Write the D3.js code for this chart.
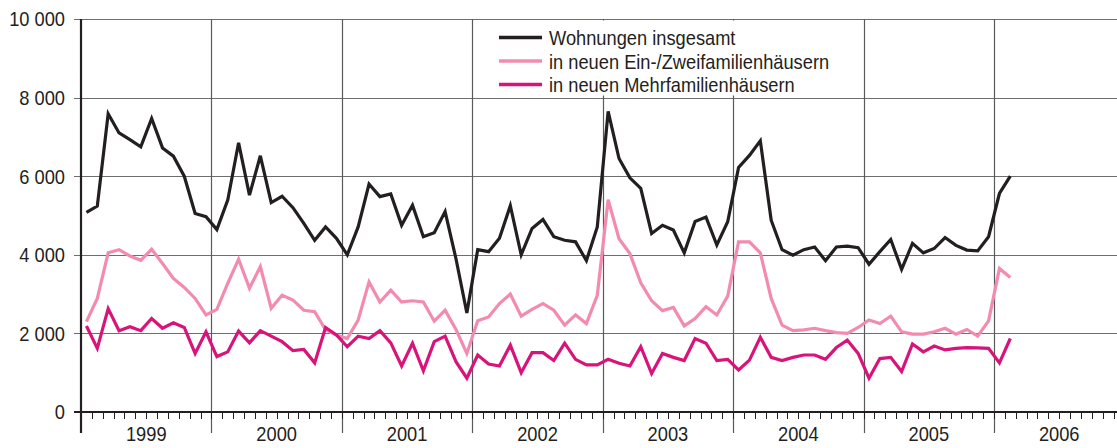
<!DOCTYPE html>
<html>
<head>
<meta charset="utf-8">
<script src="https://cdn.jsdelivr.net/npm/d3@7"></script>
<style>
body{margin:0;background:#fff;}
text{font-family:"Liberation Sans",Arial,sans-serif;fill:#231f20;}
</style>
</head>
<body>
<script>
//monthly values, Jan 1999 to Feb 2006
var years = ["1999","2000","2001","2002","2003","2004","2005","2006"];
var yTicks = [0,2000,4000,6000,8000,10000];

var insgesamt = [5080,5240,7590,7100,6930,6750,7470,6720,6510,6000,5050,4970,
4640,5390,6850,5520,6520,5330,5490,5200,4800,4370,4710,4420,
4000,4710,5800,5480,5550,4750,5260,4460,4560,5100,3900,2520,
4130,4080,4420,5250,4000,4670,4900,4460,4370,4330,3850,4710,
7650,6450,5960,5690,4540,4750,4630,4050,4850,4960,4250,4840,
6220,6530,6900,4880,4130,3990,4130,4200,3850,4200,4220,4180,
3760,4080,4390,3630,4290,4050,4160,4440,4240,4120,4100,4460,
5560,6000];

var einZwei = [2300,2890,4050,4130,3970,3860,4140,3780,3400,3170,2890,2470,
2610,3270,3890,3150,3700,2640,2970,2850,2590,2550,2090,1960,
1870,2340,3310,2800,3100,2800,2830,2800,2310,2590,2100,1490,
2320,2420,2760,3000,2440,2610,2760,2590,2210,2470,2250,2970,
5400,4410,4030,3290,2830,2580,2660,2190,2380,2680,2470,2950,
4330,4330,4050,2890,2210,2070,2090,2130,2070,2020,2000,2150,
2340,2250,2440,2040,1980,1980,2040,2130,1980,2100,1930,2320,
3650,3420];

var mehr = [2190,1620,2630,2070,2170,2070,2380,2130,2270,2150,1490,2040,
1410,1530,2060,1760,2070,1930,1790,1560,1590,1250,2150,1960,
1660,1930,1870,2070,1760,1170,1750,1050,1790,1930,1280,860,
1450,1220,1170,1700,1000,1510,1510,1310,1750,1340,1200,1200,
1340,1240,1170,1660,980,1490,1390,1310,1870,1750,1310,1340,
1070,1320,1900,1390,1310,1390,1450,1450,1340,1640,1830,1490,
860,1360,1390,1030,1730,1530,1680,1580,1620,1640,1630,1620,
1250,1870];

var seriesNames = ["Wohnungen insgesamt","in neuen Ein-/Zweifamilienh\u00e4usern","in neuen Mehrfamilienh\u00e4usern"];
var seriesColors = ["#231f20","#f38bb0","#d8137a"];

(function(){
var width = 1117, height = 448;
var mLeft = 81, mTop = 19, mBottom = 412;
var squeeze = 0.87; //condensed look of the print font

var svg = d3.select("body").append("svg")
  .attr("width", width)
  .attr("height", height);

var x = d3.scaleLinear().domain([0, years.length*12]).range([mLeft, mLeft + years.length*12*10.869]);
var y = d3.scaleLinear().domain([0, 10000]).range([mBottom, mTop]);

//horizontal grid
svg.selectAll(".hgrid").data(yTicks).enter().append("line")
  .attr("x1", mLeft-7).attr("x2", width)
  .attr("y1", function(d){return Math.round(y(d))+0.5;})
  .attr("y2", function(d){return Math.round(y(d))+0.5;})
  .attr("stroke", "#6d6e70").attr("stroke-width", 1.2);

//year lines
svg.selectAll(".vgrid").data(d3.range(1, years.length)).enter().append("line")
  .attr("x1", function(d){return Math.round(x(d*12))+0.5;})
  .attr("x2", function(d){return Math.round(x(d*12))+0.5;})
  .attr("y1", mTop).attr("y2", 433)
  .attr("stroke", "#58595b").attr("stroke-width", 1.2);

//month ticks
svg.selectAll(".mtick").data(d3.range(1, years.length*12)).enter().append("line")
  .attr("x1", function(d){return Math.round(x(d))+0.5;})
  .attr("x2", function(d){return Math.round(x(d))+0.5;})
  .attr("y1", mBottom).attr("y2", 419)
  .attr("stroke", "#231f20").attr("stroke-width", 1);

//legend box hides grid
svg.append("rect").attr("x", 488).attr("y", 20.5).attr("width", 355).attr("height", 75)
  .attr("fill", "#fff");

//axes
svg.append("line").attr("x1", mLeft-7).attr("x2", width).attr("y1", mBottom).attr("y2", mBottom)
  .attr("stroke", "#231f20").attr("stroke-width", 2);
svg.append("line").attr("x1", mLeft).attr("x2", mLeft).attr("y1", mTop).attr("y2", 433)
  .attr("stroke", "#231f20").attr("stroke-width", 2.2);

svg.selectAll(".ylab").data(yTicks).enter().append("text")
  .attr("transform", function(d){return "translate(65," + y(d) + ") scale(" + squeeze + ",1)";})
  .attr("dy", "0.35em")
  .attr("text-anchor", "end")
  .style("font-size", "21px")
  .text(function(d){return d3.format(",")(d).replace(",", " ");});

svg.selectAll(".xlab").data(years).enter().append("text")
  .attr("transform", function(d, i){return "translate(" + x(i*12+6) + ",441) scale(" + squeeze + ",1)";})
  .attr("text-anchor", "middle")
  .style("font-size", "21px")
  .text(function(d){return d;});

//series lines, points at middle of each month
var line = d3.line()
  .x(function(d, i){return x(i+0.5);})
  .y(function(d){return y(d);});

var allSeries = [einZwei, mehr, insgesamt];
var allColors = [seriesColors[1], seriesColors[2], seriesColors[0]];
for (var s=0; s<allSeries.length; s++){
  svg.append("path")
    .datum(allSeries[s])
    .attr("d", line)
    .attr("fill", "none")
    .attr("stroke", allColors[s])
    .attr("stroke-width", 3.2)
    .attr("stroke-linejoin", "miter");
}

//legend
var leg = svg.selectAll(".leg").data(seriesNames).enter().append("g")
  .attr("transform", function(d, i){return "translate(499," + (37.5 + i*23.5) + ")";});
leg.append("line").attr("x1", 0).attr("x2", 43).attr("y1", 0).attr("y2", 0)
  .attr("stroke", function(d, i){return seriesColors[i];})
  .attr("stroke-width", 3.5);
leg.append("text")
  .attr("transform", "translate(50,0) scale(" + squeeze + ",1)")
  .attr("dy", "0.36em")
  .style("font-size", "21px")
  .text(function(d){return d;});
})();
</script>
</body>
</html>
